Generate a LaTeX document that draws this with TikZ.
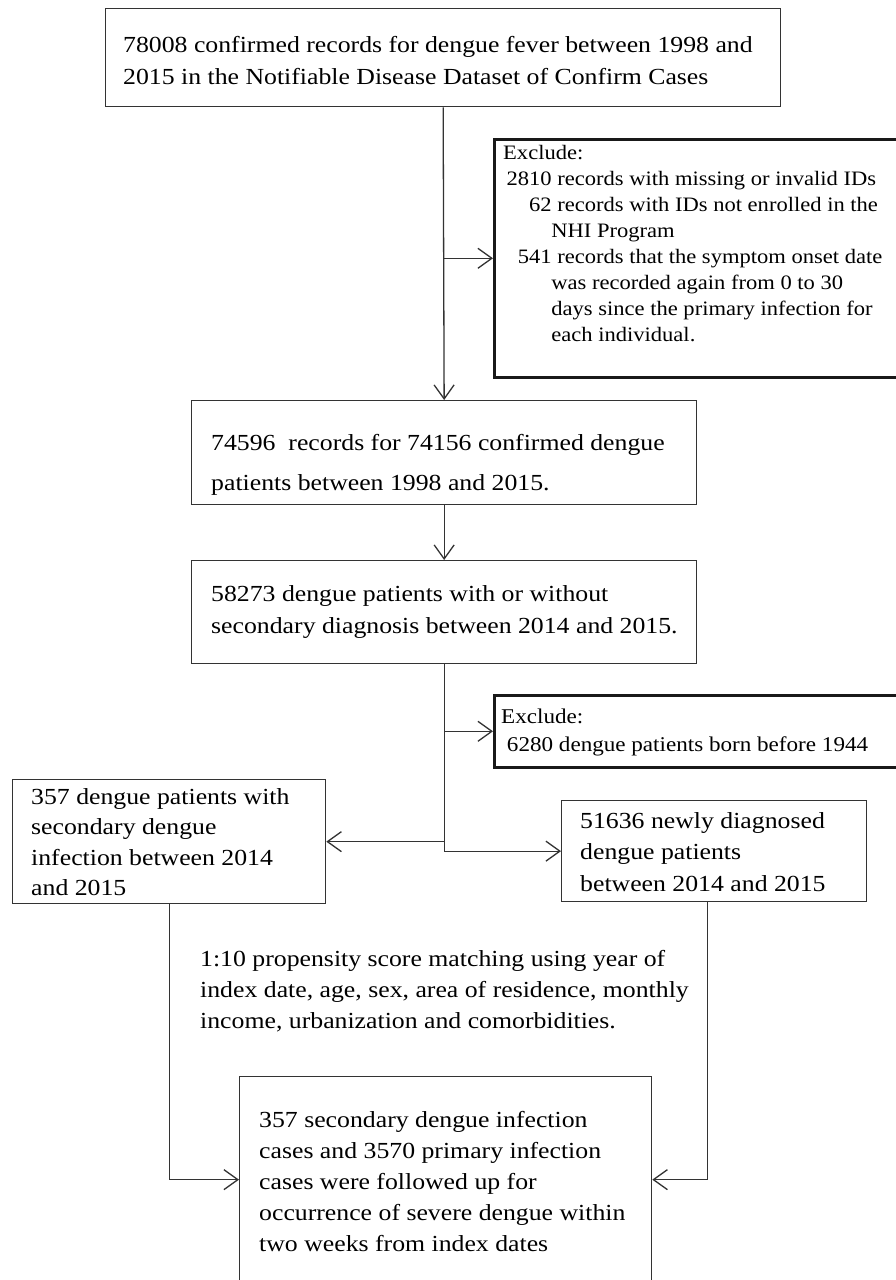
\documentclass[tikz,border=0pt]{standalone}
\usepackage{fontspec}
\setmainfont{Liberation Serif}
\newfontfamily\mainfnt[FakeStretch=1.12]{Liberation Serif}
\newfontfamily\exfnt[FakeStretch=1.1]{Liberation Serif}
\usetikzlibrary{arrows.meta}
\begin{document}
\begin{tikzpicture}[x=1pt,y=-1pt,
  box/.style={draw=black!80, line width=1.3pt, rectangle, inner sep=0pt, anchor=north west},
  exbox/.style={draw=black!90, line width=2.6pt, rectangle, inner sep=0pt, anchor=north west},
  txt/.style={anchor=west, align=left, inner sep=0pt, font=\mainfnt\fontsize{23}{32}\selectfont},
  extxt/.style={anchor=west, align=left, inner sep=0pt, font=\exfnt\fontsize{20.5}{26}\selectfont},
  conn/.style={draw=black!80, line width=1.3pt},
  arr/.style={conn, -{Straight Barb[length=14pt,width=20pt,line width=1.3pt]}}]
\clip (0,0) rectangle (896,1280);
\fill[white] (0,0) rectangle (896,1280);
% boxes
\node[box, minimum width=675pt, minimum height=98pt] (b1) at (105,8) {};
\node[exbox, minimum width=420pt, minimum height=238pt] (ex1) at (493,138) {};
\node[box, minimum width=505pt, minimum height=104pt] (b2) at (191,400) {};
\node[box, minimum width=505pt, minimum height=103pt] (b3) at (191,560) {};
\node[exbox, minimum width=420pt, minimum height=72pt] (ex2) at (493,694) {};
\node[box, minimum width=313pt, minimum height=124pt] (bl) at (12,779) {};
\node[box, minimum width=305pt, minimum height=101pt] (br) at (561,800) {};
\node[box, minimum width=412pt, minimum height=206pt] (b4) at (239,1076) {};
% texts
\node[txt] (t1) at (123,61) {78008 confirmed records for dengue fever between 1998 and\\2015 in the Notifiable Disease Dataset of Confirm Cases};
\node[extxt] (tex1) at (503,245) {\begin{tabular}{@{}r@{\ }l@{}}
\multicolumn{2}{@{}l@{}}{Exclude:}\\
\,2810 & records with missing or invalid IDs\\
62 & records with IDs not enrolled in the\\
 & \hspace{-6pt}NHI Program\\
541 & records that the symptom onset date\\
 & \hspace{-6pt}was recorded again from 0 to 30\\
 & \hspace{-6pt}days since the primary infection for\\
 & \hspace{-6pt}each individual.
\end{tabular}};
\node[txt, font=\mainfnt\fontsize{23}{40}\selectfont] (t2) at (211,465) {74596\ \ records for 74156 confirmed dengue\\patients between 1998 and 2015.};
\node[txt] (t3) at (211,612) {58273 dengue patients with or without\\secondary diagnosis between 2014 and 2015.};
\node[extxt, font=\exfnt\fontsize{21}{28}\selectfont] (tex2) at (501,732) {Exclude:\\\ 6280 dengue patients born before 1944};
\node[txt, font=\mainfnt\fontsize{23}{30.5}\selectfont] (tl) at (31,842) {357 dengue patients with\\secondary dengue\\infection between 2014\\and 2015};
\node[txt, font=\mainfnt\fontsize{23}{31.5}\selectfont] (tr) at (580,852) {51636 newly diagnosed\\dengue patients\\between 2014 and 2015};
\node[txt, font=\mainfnt\fontsize{23}{31}\selectfont] (tm) at (200,991) {1:10 propensity score matching using year of\\index date, age, sex, area of residence, monthly\\income, urbanization and comorbidities.};
\node[txt, font=\mainfnt\fontsize{23}{31}\selectfont] (t4) at (259,1181) {357 secondary dengue infection\\cases and 3570 primary infection\\cases were followed up for\\occurrence of severe dengue within\\two weeks from index dates};
% connectors
\coordinate (j1) at (b1.south |- ex1.west);
\draw[arr] (b1.south) -- (b2.north);
\draw[arr] (j1) -- (ex1.west);
\draw[arr] (b2.south) -- (b3.north);
\coordinate (j2) at (b3.south |- ex2.west);
\coordinate (j3) at (b3.south |- bl.east);
\coordinate (j4) at (b3.south |- br.west);
\draw[conn] (b3.south) -- (j4);
\draw[arr] (j2) -- (ex2.west);
\draw[arr] (j3) -- (bl.east);
\draw[arr] (j4) -- (br.west);
\coordinate (blb) at (bl.south);
\coordinate (brb) at ([xshift=-7pt]br.south);
\draw[arr] (blb) |- (b4.west);
\draw[arr] (brb) |- (b4.east);
\end{tikzpicture}
\end{document}
